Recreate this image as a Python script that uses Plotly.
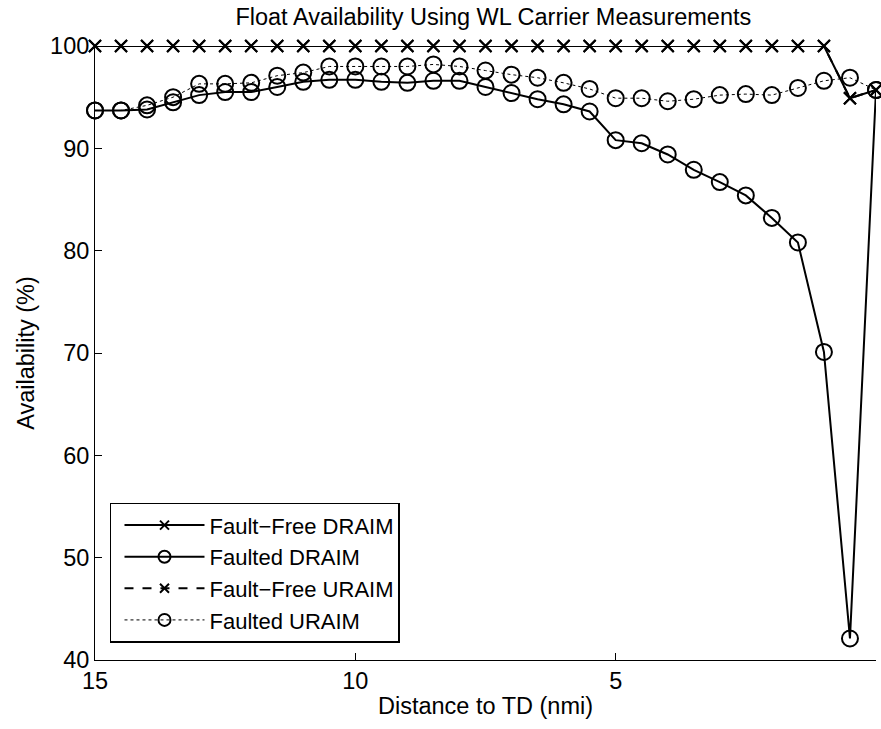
import plotly.graph_objects as go

# Distance to touchdown (nmi), from 15 down to 0 in half-mile steps
distance = [15, 14.5, 14, 13.5, 13, 12.5, 12, 11.5, 11, 10.5, 10, 9.5, 9, 8.5, 8,
            7.5, 7, 6.5, 6, 5.5, 5, 4.5, 4, 3.5, 3, 2.5, 2, 1.5, 1, 0.5, 0]

fault_free_draim = [100, 100, 100, 100, 100, 100, 100, 100, 100, 100, 100, 100, 100, 100, 100,
                    100, 100, 100, 100, 100, 100, 100, 100, 100, 100, 100, 100, 100, 100, 94.9, 95.7]

faulted_draim = [93.7, 93.7, 93.8, 94.5, 95.2, 95.5, 95.5, 96.0, 96.5, 96.7, 96.7, 96.5, 96.4, 96.6, 96.6,
                 96.0, 95.4, 94.8, 94.3, 93.6, 90.8, 90.5, 89.4, 87.9, 86.7, 85.4, 83.2, 80.8, 70.1, 42.1, 95.7]

fault_free_uraim = [100, 100, 100, 100, 100, 100, 100, 100, 100, 100, 100, 100, 100, 100, 100,
                    100, 100, 100, 100, 100, 100, 100, 100, 100, 100, 100, 100, 100, 100, 94.9, 95.7]

faulted_uraim = [93.7, 93.7, 94.2, 95.0, 96.3, 96.3, 96.4, 97.1, 97.4, 98.0, 98.0, 98.0, 98.0, 98.2, 98.0,
                 97.6, 97.2, 96.9, 96.4, 95.8, 94.9, 94.9, 94.6, 94.8, 95.2, 95.3, 95.2, 95.9, 96.6, 96.9, 95.7]

series_names = ["Fault\u2212Free DRAIM", "Faulted DRAIM", "Fault\u2212Free URAIM", "Faulted URAIM"]

FONT = "Liberation Sans, Arial, Helvetica, sans-serif"
BLACK = "#000000"
TXT = 23.5

# line dash, line width and marker symbol for each series
styles = [
    ("solid", 2, "x-thin"),
    ("solid", 2, "circle-open"),
    ("dash", 2, "x-thin"),
    ("dot", 1, "circle-open"),
]

fig = go.Figure()

for name, values, (dash, lw, sym) in zip(
        series_names,
        [fault_free_draim, faulted_draim, fault_free_uraim, faulted_uraim],
        styles):
    big = 12 if sym == "x-thin" else 16
    fig.add_trace(go.Scatter(
        x=distance, y=values, name=name, mode="lines+markers",
        legendgroup=name, showlegend=False, cliponaxis=False,
        line=dict(color=BLACK, width=lw, dash=dash),
        marker=dict(symbol=sym, size=big, color=BLACK, line=dict(color=BLACK, width=2)),
    ))

# legend keys use the same styles with smaller markers
for name, (dash, lw, sym) in zip(series_names, styles):
    small = 9 if sym == "x-thin" else 12
    fig.add_trace(go.Scatter(
        x=[None], y=[None], name=name, mode="lines+markers",
        legendgroup=name, showlegend=True,
        line=dict(color=BLACK, width=lw, dash=dash),
        marker=dict(symbol=sym, size=small, color=BLACK, line=dict(color=BLACK, width=2)),
    ))

axis_common = dict(
    showgrid=False, zeroline=False, showline=True, linecolor=BLACK, linewidth=1,
    ticks="inside", ticklen=7, tickcolor=BLACK, tickwidth=1,
    tickfont=dict(family=FONT, size=TXT, color=BLACK),
    mirror=False,
)

fig.update_layout(
    width=881, height=729,
    paper_bgcolor="white", plot_bgcolor="white",
    margin=dict(l=95, r=5, t=46, b=69),
    font=dict(family=FONT, size=TXT, color=BLACK),
    title=dict(text="Float Availability Using WL Carrier Measurements",
               x=0.56, xanchor="center", y=1 - 17 / 729, yanchor="middle",
               font=dict(family=FONT, size=TXT, color=BLACK)),
    xaxis=dict(axis_common, range=[15, 0], tickvals=[15, 10, 5, 0],
               title=dict(text="Distance to TD (nmi)", standoff=4,
                          font=dict(family=FONT, size=TXT, color=BLACK))),
    yaxis=dict(axis_common, range=[40, 100], tickvals=[40, 50, 60, 70, 80, 90, 100],
               title=dict(text="Availability (%)", standoff=8,
                          font=dict(family=FONT, size=TXT, color=BLACK))),
    legend=dict(x=0.0192, y=0.028, xanchor="left", yanchor="bottom",
                bgcolor="white", bordercolor=BLACK, borderwidth=1.5,
                font=dict(family=FONT, size=22, color=BLACK),
                itemwidth=80, indentation=8, tracegroupgap=0),
    showlegend=True,
)

fig.write_html("out.html")
